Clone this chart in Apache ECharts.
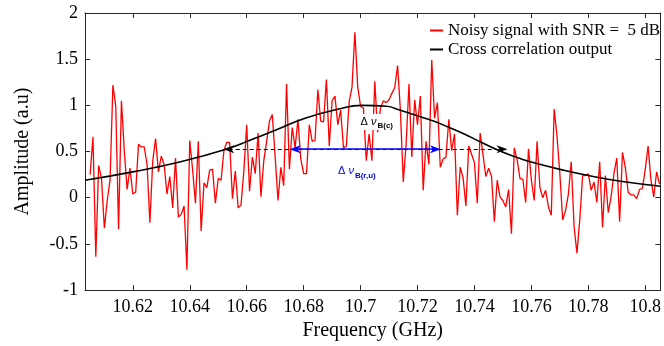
<!DOCTYPE html>
<html><head><meta charset="utf-8">
<script src="https://cdn.jsdelivr.net/npm/echarts@6/dist/echarts.min.js"></script>
<style>html,body{margin:0;padding:0;background:#fff}#c{width:664px;height:346px}</style>
</head><body><div id="c"></div>
<script>
// Frequency samples of the noisy signal (GHz)
const freq = [
10.605,10.606,10.607,10.608,10.609,10.610,10.611,10.612,10.613,10.614,
10.615,10.616,10.617,10.618,10.619,10.620,10.621,10.622,10.623,10.624,
10.625,10.626,10.627,10.628,10.629,10.630,10.631,10.632,10.633,10.634,
10.635,10.636,10.637,10.638,10.639,10.640,10.641,10.642,10.643,10.644,
10.645,10.646,10.647,10.648,10.649,10.650,10.651,10.652,10.653,10.654,
10.655,10.656,10.657,10.658,10.659,10.660,10.661,10.662,10.663,10.664,
10.665,10.666,10.667,10.668,10.669,10.670,10.671,10.672,10.673,10.674,
10.675,10.676,10.677,10.678,10.679,10.680,10.681,10.682,10.683,10.684,
10.685,10.686,10.687,10.688,10.689,10.690,10.691,10.692,10.693,10.694,
10.695,10.696,10.697,10.698,10.699,10.700,10.701,10.702,10.703,10.704,
10.705,10.706,10.707,10.708,10.709,10.710,10.711,10.712,10.713,10.714,
10.715,10.716,10.717,10.718,10.719,10.720,10.721,10.722,10.723,10.724,
10.725,10.726,10.727,10.728,10.729,10.730,10.731,10.732,10.733,10.734,
10.735,10.736,10.737,10.738,10.739,10.740,10.741,10.742,10.743,10.744,
10.745,10.746,10.747,10.748,10.749,10.750,10.751,10.752,10.753,10.754,
10.755,10.756,10.757,10.758,10.759,10.760,10.761,10.762,10.763,10.764,
10.765,10.766,10.767,10.768,10.769,10.770,10.771,10.772,10.773,10.774,
10.775,10.776,10.777,10.778,10.779,10.780,10.781,10.782,10.783,10.784,
10.785,10.786,10.787,10.788,10.789,10.790,10.791,10.792,10.793,10.794,
10.795,10.796,10.797,10.798,10.799,10.800,10.801,10.802,10.803,10.804,
10.805];
// Noisy signal amplitude (a.u)
const noisy = [
0.25,0.66,-0.64,0.35,0.21,-0.33,-0.03,0.19,1.22,0.99,
-0.34,1.05,0.51,0.09,0.32,0.04,0.06,0.58,0.55,0.55,
0.36,-0.27,0.40,0.64,0.28,0.45,0.36,0.04,0.23,-0.11,
0.43,-0.21,-0.18,-0.09,-0.78,0.62,0.30,-0.06,0.61,-0.36,
0.16,0.11,0.30,0.31,-0.06,0.21,0.19,0.51,0.60,0.60,
-0.01,0.29,-0.11,-0.08,0.29,0.79,0.07,0.44,0.26,0.70,
0.01,0.40,0.61,0.83,0.90,0.44,-0.03,0.33,0.13,1.23,
0.31,0.76,0.54,0.85,0.42,0.26,0.26,0.79,0.61,0.62,
1.17,0.83,0.82,1.28,0.56,1.05,1.10,0.79,0.95,0.54,
0.56,1.04,1.20,1.79,1.20,0.99,0.97,0.40,0.69,0.40,
1.26,0.71,0.97,1.05,1.03,1.06,1.13,1.19,1.43,0.94,
0.17,0.58,1.23,0.44,1.06,0.79,1.10,0.08,0.61,0.36,
1.49,0.86,1.03,0.33,0.42,0.44,0.85,0.51,0.69,-0.19,
0.33,0.22,-0.09,0.56,0.47,0.38,-0.06,0.70,0.47,0.23,
0.32,0.23,-0.26,0.19,0.01,-0.03,-0.10,0.09,-0.39,0.54,
0.41,0.21,0.20,-0.05,0.53,0.19,-0.03,0.61,0.11,0.00,
0.08,-0.10,-0.19,0.96,0.67,0.26,-0.24,-0.14,0.04,0.39,
-0.31,-0.60,-0.24,0.24,0.24,0.26,0.08,0.17,-0.05,0.39,
-0.32,0.24,-0.16,0.01,0.26,0.43,-0.26,0.49,0.33,0.06,
0.03,0.03,-0.01,0.09,0.10,0.31,0.56,0.19,0.01,0.28,
0.15];
// Cross-correlation output
const corrFreq = [10.6032,10.620,10.6368,10.6532,10.6609,10.670,10.6805,10.6924,10.7004,10.7092,10.7137,10.7197,10.7256,10.7312,10.7364,10.7424,10.7494,10.7564,10.7633,10.7697,10.7801,10.792,10.8053];
const corrAmp  = [0.19,0.28,0.39,0.53,0.62,0.73,0.86,0.96,1.00,0.99,0.95,0.89,0.83,0.76,0.69,0.60,0.50,0.42,0.36,0.31,0.24,0.175,0.125];
// Axis ticks
const xTicks = [10.62,10.64,10.66,10.68,10.70,10.72,10.74,10.76,10.78,10.80];
const xRange = [10.6032, 10.8053];
const yRange = [-1, 2];
const yStep = 0.5;
// Annotations (data coordinates)
const arrowLevel = 0.525;
const fwhmCorr = [10.6537, 10.7497];
const fwhmNoisy = [10.6770, 10.7263];
const labelCorrPos = [10.7057, 0.82];
const labelNoisyPos = [10.6987, 0.285];
const seriesNames = ['Noisy signal with SNR =  5 dB', 'Cross correlation output'];

const serif = 'Liberation Serif, Times New Roman, serif';
const sans = 'Liberation Sans, Arial, sans-serif';
const axisColor = '#262626';
const arrowPath = 'path://M5,0 L10,13 L5,9.5 L0,13 Z';

const chart = echarts.init(document.getElementById('c'), null, {renderer: 'canvas'});
const fmt = v => String(+(+v).toFixed(2));
const rich = col => ({
  a: {fontFamily: sans, fontSize: 11, color: col},
  b: {fontFamily: sans, fontSize: 11, fontStyle: 'italic', color: col},
  c: {fontFamily: sans, fontSize: 8, fontWeight: 'bold', color: col, padding: [8, 0, 0, 1]}
});

chart.setOption({
  animation: false,
  backgroundColor: '#fff',
  grid: {left: 85, top: 13, right: 1, bottom: 53, containLabel: false},
  legend: {
    orient: 'vertical', left: 430, top: 22, padding: 0, itemWidth: 13, itemHeight: 2, itemGap: 2,
    icon: 'rect', data: seriesNames,
    textStyle: {fontFamily: serif, fontSize: 17, color: '#000'}
  },
  xAxis: [{
    type: 'value', min: xRange[0], max: xRange[1],
    axisLine: {onZero: false, lineStyle: {color: axisColor, width: 1}},
    axisTick: {inside: true, length: 5, customValues: xTicks, lineStyle: {color: axisColor}},
    axisLabel: {customValues: xTicks, formatter: fmt, fontFamily: serif, fontSize: 18, color: '#000', margin: 8},
    splitLine: {show: false},
    name: 'Frequency (GHz)', nameLocation: 'middle', nameGap: 29,
    nameTextStyle: {fontFamily: serif, fontSize: 20, color: '#000'}
  }, {
    type: 'value', position: 'top', min: xRange[0], max: xRange[1],
    axisLine: {onZero: false, lineStyle: {color: axisColor, width: 1}},
    axisTick: {inside: true, length: 5, customValues: xTicks, lineStyle: {color: axisColor}},
    axisLabel: {show: false}, splitLine: {show: false}
  }],
  yAxis: [{
    type: 'value', min: yRange[0], max: yRange[1], interval: yStep,
    axisLine: {show: true, onZero: false, lineStyle: {color: axisColor, width: 1}},
    axisTick: {show: true, inside: true, length: 5, lineStyle: {color: axisColor}},
    axisLabel: {fontFamily: serif, fontSize: 18, color: '#000', margin: 7},
    splitLine: {show: false},
    name: 'Amplitude (a.u)', nameLocation: 'middle', nameGap: 52,
    nameTextStyle: {fontFamily: serif, fontSize: 20, color: '#000'}
  }, {
    type: 'value', position: 'right', min: yRange[0], max: yRange[1], interval: yStep,
    axisLine: {show: true, onZero: false, lineStyle: {color: axisColor, width: 1}},
    axisTick: {show: true, inside: true, length: 5, lineStyle: {color: axisColor}},
    axisLabel: {show: false}, splitLine: {show: false}
  }],
  series: [{
    name: seriesNames[0], type: 'line', showSymbol: false, symbol: 'none',
    data: freq.map((f, i) => [f, noisy[i]]),
    lineStyle: {color: '#ff0000', width: 1.3}, itemStyle: {color: '#ff0000'}, z: 2
  }, {
    name: seriesNames[1], type: 'line', showSymbol: false, symbol: 'none', smooth: 0.5,
    data: corrFreq.map((f, i) => [f, corrAmp[i]]),
    lineStyle: {color: '#000', width: 1.6}, itemStyle: {color: '#000'}, z: 3
  }, {
    name: 'annot', type: 'line', data: [], z: 4, silent: true,
    markLine: {
      silent: true, animation: false, symbol: [arrowPath, arrowPath], symbolSize: [8, 11],
      label: {show: false},
      data: [
        [{coord: [fwhmCorr[0], arrowLevel], lineStyle: {color: '#000', type: [4, 3], width: 1.2}, itemStyle: {color: '#000'}},
         {coord: [fwhmCorr[1], arrowLevel]}],
        [{coord: [fwhmNoisy[0], arrowLevel], lineStyle: {color: '#0000ff', type: 'solid', width: 1.5}, itemStyle: {color: '#0000ff'}},
         {coord: [fwhmNoisy[1], arrowLevel]}]
      ]
    },
    markPoint: {
      silent: true, animation: false, symbol: 'circle', symbolSize: 1,
      itemStyle: {color: 'rgba(0,0,0,0)'},
      data: [
        {coord: labelCorrPos, label: {show: true, position: 'inside', formatter: '{a|Δ }{b|ν}{c|B(c)}',
          rich: rich('#000'), backgroundColor: '#fff', padding: [0, 2, 0, 2]}},
        {coord: labelNoisyPos, label: {show: true, position: 'inside', formatter: '{a|Δ }{b|ν}{c|B(r,u)}',
          rich: rich('#0000ff')}}
      ]
    }
  }]
});
</script></body></html>
